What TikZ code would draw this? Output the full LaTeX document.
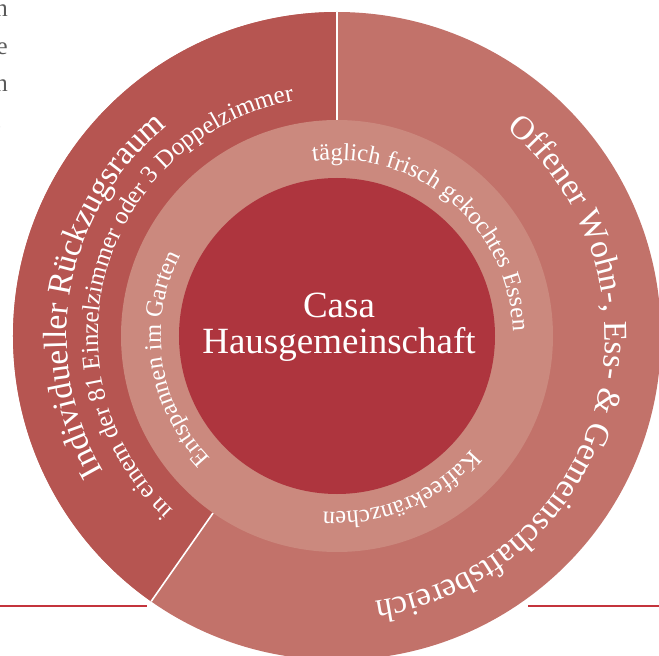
\documentclass[tikz,border=0pt]{standalone}
\usepackage{fontspec}
\setmainfont{Liberation Serif}
\usetikzlibrary{decorations.text}
\definecolor{casaRed}{HTML}{AE353E}
\definecolor{ringRose}{HTML}{CB897E}
\definecolor{privRed}{HTML}{B65551}
\definecolor{commRed}{HTML}{C2726A}
\definecolor{ruleRed}{HTML}{C4343C}
\definecolor{pageGray}{HTML}{5A5A5A}
\newcommand{\bigsz}{\fontsize{33.5}{40}\selectfont}
\newcommand{\smallsz}{\fontsize{25}{30}\selectfont}
\newcommand{\ringsz}{\fontsize{24.5}{30}\selectfont}

\begin{document}
\begin{tikzpicture}[x=1pt, y=1pt,
    curved/.style={decorate, decoration={text along path, text align=center, text color=white}},
    divider/.style={draw=white, line width=1.6pt},
    margin/.style={font=\fontsize{25}{30}\selectfont, text=pageGray, inner sep=0pt, anchor=base east},
    rule/.style={draw=ruleRed, line width=1.4pt},
    centre/.style={font=\fontsize{37}{36}\selectfont, text=white, inner sep=0pt, anchor=base}
  ]
  \useasboundingbox (-337,-320) rectangle (322,336);
  \clip (-337,-320) rectangle (322,336);
  % Stray letters of the page text
  \node[margin] (m1) at (-329,319) {n};
  \node[margin] (m2) at (-329,281) {e};
  \node[margin] (m3) at (-329,244) {n};
  \node[margin] (m4) at (-335,207) {.};
  % Page rules
  \coordinate (ruleLa) at (-337,-270);
  \coordinate (ruleLb) at (-190,-270);
  \coordinate (ruleRa) at (191,-270);
  \coordinate (ruleRb) at (322,-270);
  \draw[rule] (ruleLa) -- (ruleLb);
  \draw[rule] (ruleRa) -- (ruleRb);
  % Outer ring, two sectors
  \fill[commRed] (0,0) circle[radius=324];
  \fill[privRed] (0,0) -- (90:324) arc[start angle=90, end angle=235, radius=324] -- cycle;
  \coordinate (topIn) at (90:216);
  \coordinate (topOut) at (90:324);
  \coordinate (lowIn) at (235:216);
  \coordinate (lowOut) at (235:324);
  \draw[divider] (topIn) -- (topOut);
  \draw[divider] (lowIn) -- (lowOut);
  % Middle ring and core
  \fill[ringRose] (0,0) circle[radius=216];
  \fill[casaRed] (0,0) circle[radius=158];
  % Core label
  \node[centre] (casa) at (2,19) {Casa};
  \node[centre] (haus) at (2,-17) {Hausgemeinschaft};
  % Texts along the outer ring
  \path[curved, decoration={text={|\bigsz|Individueller Rückzugsraum}}]
    (259.5:270) arc[start angle=259.5, end angle=79.5, radius=270];
  \path[curved, decoration={text={|\smallsz|in einem der 81 Einzelzimmer oder 3 Doppelzimmer}}]
    (253.6:239) arc[start angle=253.6, end angle=73.6, radius=239];
  \path[curved, decoration={text={|\bigsz|Offener Wohn-, Ess- {\&} Gemeinschaftsbereich}}]
    (74.4:268) arc[start angle=74.4, end angle=-105.6, radius=268];
  % Texts along the middle ring
  \path[curved, decoration={text={|\ringsz|täglich frisch gekochtes Essen}}]
    (139.7:176) arc[start angle=139.7, end angle=-40.3, radius=176];
  \path[curved, decoration={text={|\ringsz|Entspannen im Garten}}]
    (278.3:176) arc[start angle=278.3, end angle=98.3, radius=176];
  \path[curved, decoration={text={|\ringsz|Kaffeekränzchen}}]
    (22.7:176) arc[start angle=22.7, end angle=-157.3, radius=176];
\end{tikzpicture}
\end{document}
